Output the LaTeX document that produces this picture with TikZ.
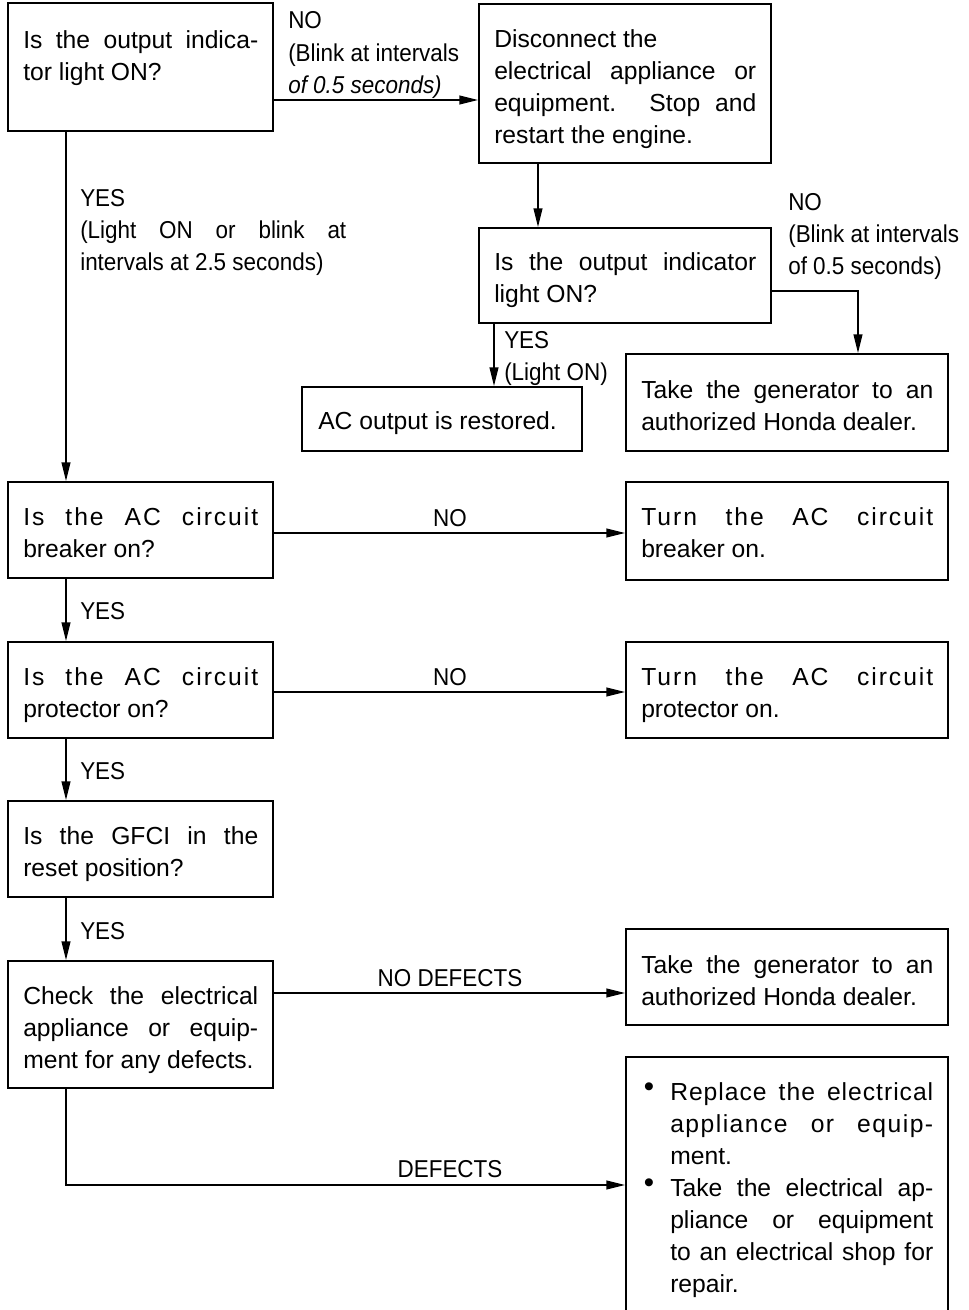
\documentclass[tikz,border=0pt]{standalone}
\usepackage{fontspec}
\setmainfont{Liberation Sans}
\newfontfamily\lblfont[FakeStretch=0.92]{Liberation Sans}
\usetikzlibrary{arrows.meta}
\newcommand\jl[1]{\makebox[\hsize][s]{#1}\par}
\newcommand\sjl[1]{{\addfontfeature{LetterSpace=8}\makebox[\hsize][s]{#1}\par}}
\newcommand\pl[1]{#1\par}
\newcommand\bul{\makebox[21.75pt][l]{\hspace{2pt}\raisebox{3pt}{\fontsize{22}{22}\selectfont •}}}
\newcommand\ind{\hspace*{21.75pt}}
\begin{document}
\begin{tikzpicture}[x=0.75pt,y=-0.75pt,
  box/.style={draw, line width=1.3pt, inner sep=0pt, rectangle},
  arr/.style={line width=1.3pt, -{Triangle[length=14pt,width=6.5pt]}},
  txt/.style={inner sep=0pt, anchor=base west, font=\fontsize{18.5}{24}\selectfont},
  lbl/.style={inner sep=0pt, anchor=base west, font=\lblfont\fontsize{18.3}{24}\selectfont},
  clbl/.style={inner sep=0pt, anchor=base, font=\lblfont\fontsize{18.3}{24}\selectfont},
]
\useasboundingbox (0,0) rectangle (969,1310);

% helper coordinates
\coordinate (c66) at (66,0);
\coordinate (c538) at (538,0);
\coordinate (c494) at (494,0);
\coordinate (c858) at (858,0);
\coordinate (r100) at (0,100);
\coordinate (r291) at (0,291);
\coordinate (r533) at (0,533);
\coordinate (r692) at (0,692);
\coordinate (r993) at (0,993);
\coordinate (r1185) at (0,1185);

% boxes
\node[box, minimum width=198.75pt, minimum height=96pt] (q1) at (140.5,67) {};
\node[box, minimum width=219pt, minimum height=119.25pt] (disc) at (625,83.5) {};
\node[box, minimum width=219pt, minimum height=71.25pt] (q2) at (625,275.5) {};
\node[box, minimum width=210pt, minimum height=48pt] (acout) at (442,419) {};
\node[box, minimum width=241.5pt, minimum height=72.75pt] (gen1) at (787,402.5) {};
\node[box, minimum width=198.75pt, minimum height=72pt] (brkq) at (140.5,530) {};
\node[box, minimum width=241.5pt, minimum height=73.5pt] (brka) at (787,531) {};
\node[box, minimum width=198.75pt, minimum height=72pt] (protq) at (140.5,690) {};
\node[box, minimum width=241.5pt, minimum height=72pt] (prota) at (787,690) {};
\node[box, minimum width=198.75pt, minimum height=72pt] (gfci) at (140.5,849) {};
\node[box, minimum width=198.75pt, minimum height=95.25pt] (check) at (140.5,1024.5) {};
\node[box, minimum width=241.5pt, minimum height=72pt] (gen2) at (787,977) {};
\node[box, minimum width=241.5pt, minimum height=193.5pt] (repl) at (787,1186) {};

% box texts
\node[txt] (q1t) at (23,48) {\parbox[t]{176.25pt}{\jl{Is the output indica-}\pl{tor light ON?}}};
\node[txt] (disct) at (494,47) {\parbox[t]{196.5pt}{\pl{Disconnect the}\jl{electrical appliance or}\jl{equipment. Stop and}\pl{restart the engine.}}};
\node[txt] (q2t) at (494,270) {\parbox[t]{196.5pt}{\jl{Is the output indicator}\pl{light ON?}}};
\node[txt] (acoutt) at (318,429) {AC output is restored.};
\node[txt] (gen1t) at (641,398) {\parbox[t]{219pt}{\jl{Take the generator to an}\pl{authorized Honda dealer.}}};
\node[txt] (brkqt) at (23,525) {\parbox[t]{176.25pt}{\sjl{Is the AC circuit}\pl{breaker on?}}};
\node[txt] (brkat) at (641,525) {\parbox[t]{219pt}{\sjl{Turn the AC circuit}\pl{breaker on.}}};
\node[txt] (protqt) at (23,685) {\parbox[t]{176.25pt}{\sjl{Is the AC circuit}\pl{protector on?}}};
\node[txt] (protat) at (641,685) {\parbox[t]{219pt}{\sjl{Turn the AC circuit}\pl{protector on.}}};
\node[txt] (gfcit) at (23,844) {\parbox[t]{176.25pt}{\jl{Is the GFCI in the}\pl{reset position?}}};
\node[txt] (checkt) at (23,1004) {\parbox[t]{176.25pt}{\jl{Check the electrical}\jl{appliance or equip-}\pl{ment for any defects.}}};
\node[txt] (gen2t) at (641,973) {\parbox[t]{219pt}{\jl{Take the generator to an}\pl{authorized Honda dealer.}}};
\node[txt] (replt) at (641,1100) {\parbox[t]{219pt}{%
  \pl{\bul{\addfontfeature{LetterSpace=4}\makebox[197.25pt][s]{Replace the electrical}}}%
  \pl{\ind{\addfontfeature{LetterSpace=6}\makebox[197.25pt][s]{appliance or equip-}}}%
  \pl{\ind ment.}%
  \pl{\bul\makebox[197.25pt][s]{Take the electrical ap-}}%
  \pl{\ind\makebox[197.25pt][s]{pliance or equipment}}%
  \pl{\ind\makebox[197.25pt][s]{to an electrical shop for}}%
  \pl{\ind repair.}}};

% connectors
\draw[arr] (q1.east |- r100) -- (disc.west |- r100);
\draw[arr] (q1.south -| c66) -- (brkq.north -| c66);
\draw[arr] (disc.south -| c538) -- (q2.north -| c538);
\draw[arr] (q2.south -| c494) -- (acout.north -| c494);
\draw[arr] (q2.east |- r291) -| (gen1.north -| c858);
\draw[arr] (brkq.east |- r533) -- (brka.west |- r533);
\draw[arr] (brkq.south -| c66) -- (protq.north -| c66);
\draw[arr] (protq.east |- r692) -- (prota.west |- r692);
\draw[arr] (protq.south -| c66) -- (gfci.north -| c66);
\draw[arr] (gfci.south -| c66) -- (check.north -| c66);
\draw[arr] (check.east |- r993) -- (gen2.west |- r993);
\draw[arr] (check.south -| c66) |- (repl.west |- r1185);

% labels
\node[lbl] (l1a) at (288,28) {NO};
\node[lbl] (l1b) at (288,61) {(Blink at intervals};
\node[lbl] (l1c) at (288,93) {\textit{of 0.5 seconds)}};
\node[lbl] (l2a) at (80,206) {YES};
\node[lbl] (l2b) at (80,238) {\makebox[199.5pt][s]{(Light ON or blink at}};
\node[lbl] (l2c) at (80,270) {intervals at 2.5 seconds)};
\node[lbl] (l3a) at (788,210) {NO};
\node[lbl] (l3b) at (788,242) {(Blink at intervals};
\node[lbl] (l3c) at (788,274) {of 0.5 seconds)};
\node[lbl] (l4a) at (504,348) {YES};
\node[lbl] (l4b) at (504,380) {(Light ON)};
\node[clbl] (l5) at (450,526) {NO};
\node[lbl] (l6) at (80,619) {YES};
\node[clbl] (l7) at (450,685) {NO};
\node[lbl] (l8) at (80,779) {YES};
\node[lbl] (l9) at (80,939) {YES};
\node[clbl] (l10) at (450,986) {NO DEFECTS};
\node[clbl] (l11) at (450,1177) {DEFECTS};
\end{tikzpicture}
\end{document}
